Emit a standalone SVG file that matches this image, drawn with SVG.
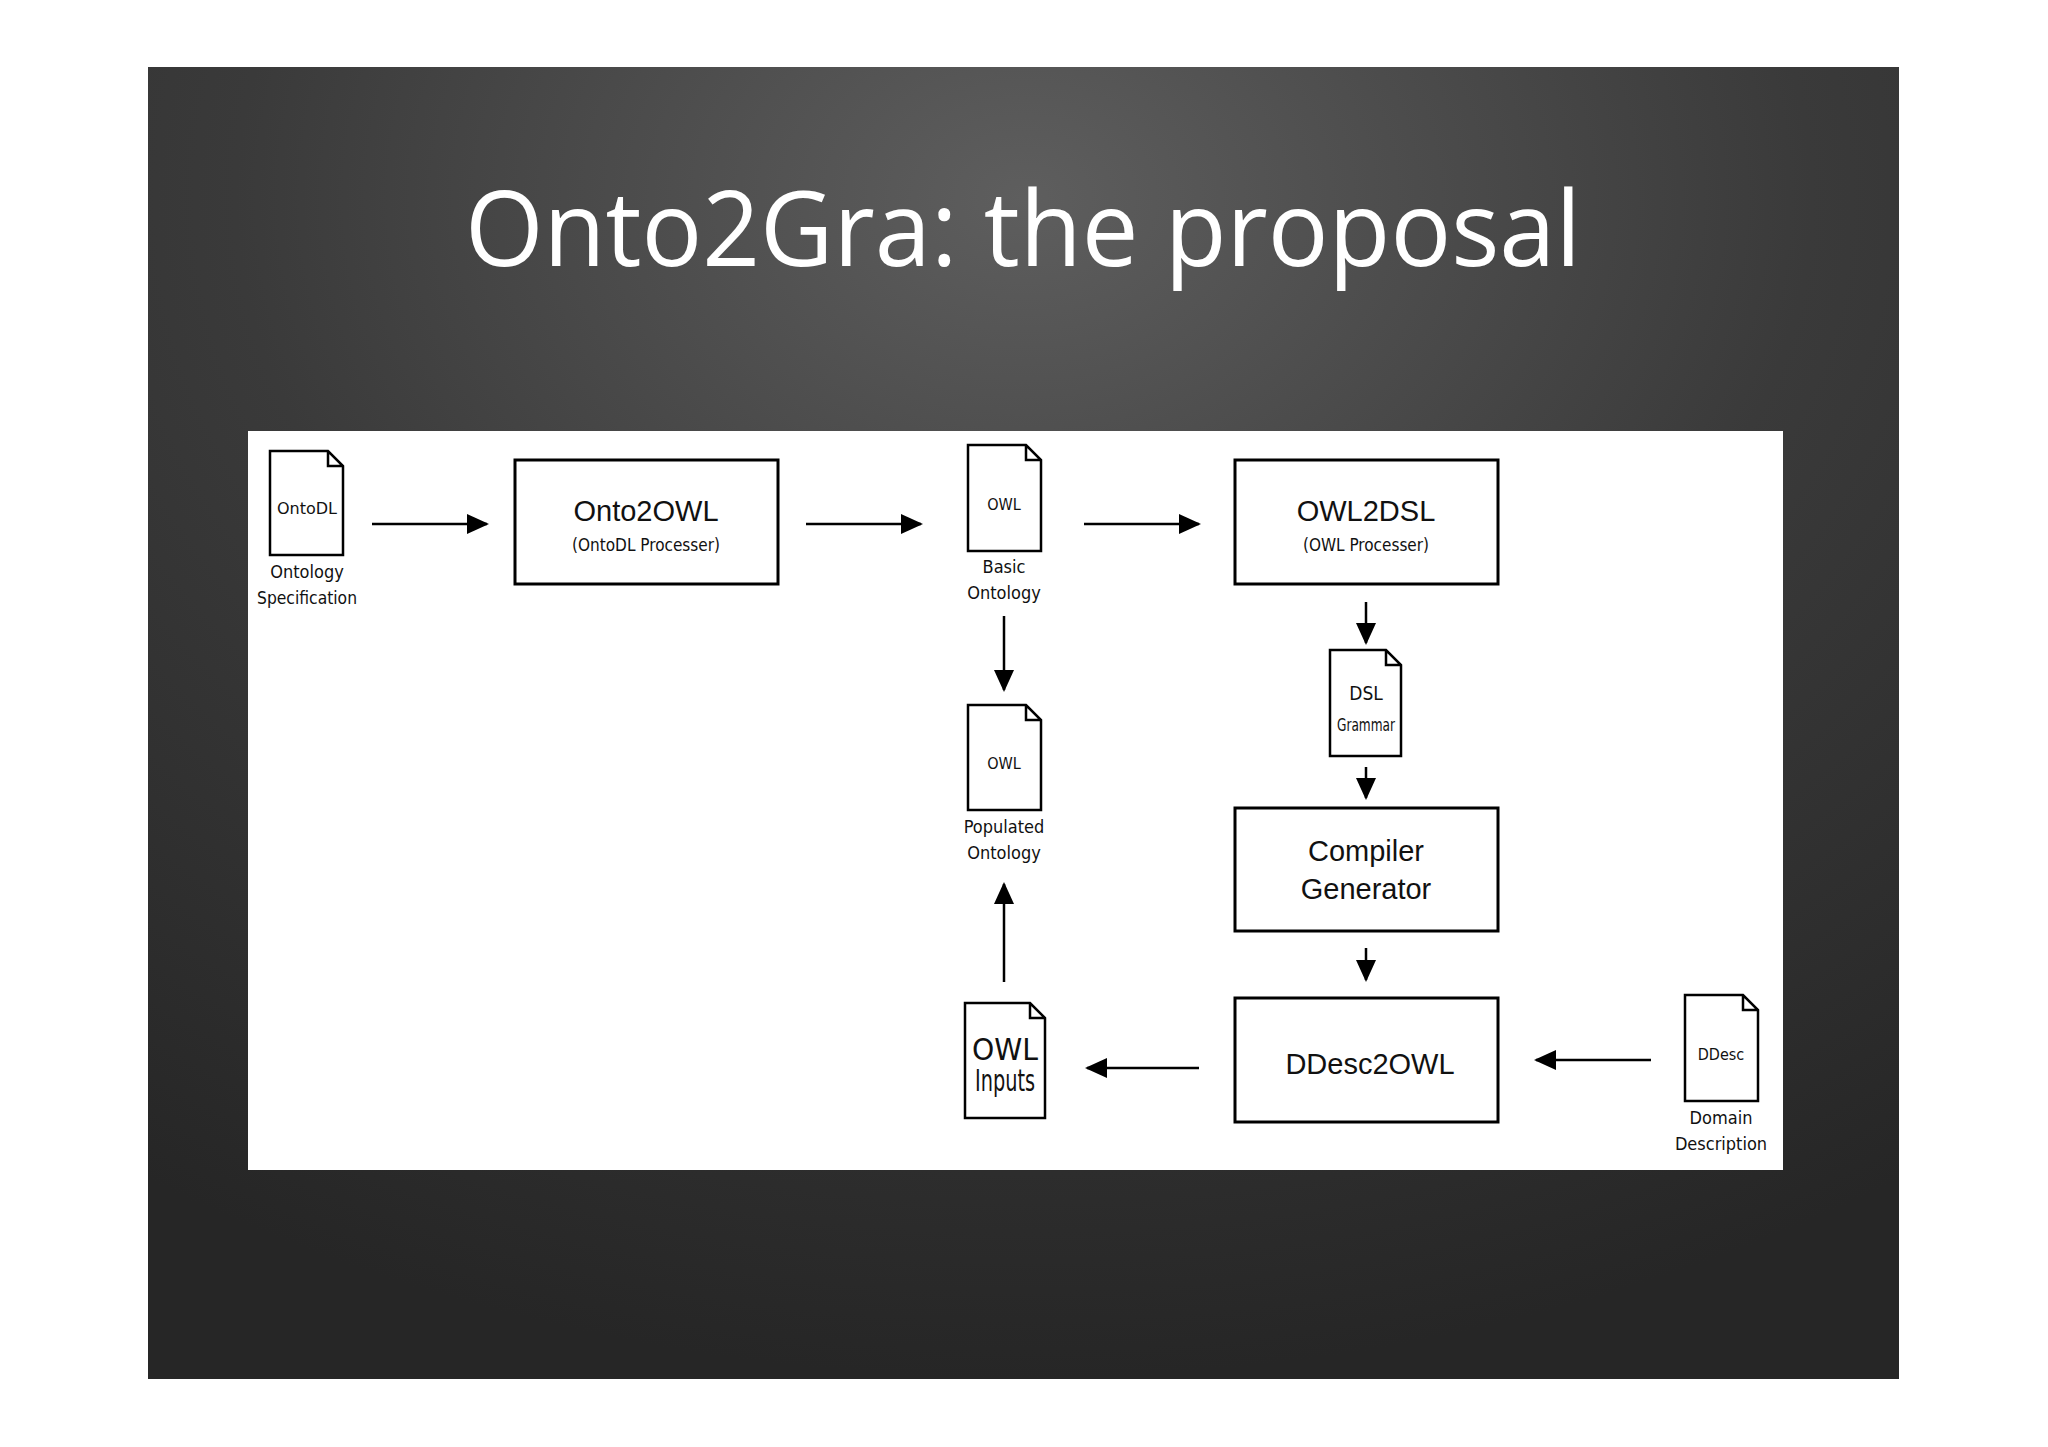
<svg xmlns="http://www.w3.org/2000/svg" width="2048" height="1447" viewBox="0 0 2048 1447">
<defs>
<radialGradient id="bg" cx="0.5" cy="0.1" r="0.9">
<stop offset="0" stop-color="#5e5e5e"/><stop offset="0.5" stop-color="#3a3a3a"/><stop offset="1" stop-color="#262626"/>
</radialGradient>
<marker id="ah" markerUnits="userSpaceOnUse" markerWidth="22" markerHeight="20" refX="20" refY="10" orient="auto"><path d="M0,0 L22,10 L0,20 Z" fill="#000"/></marker>
</defs>
<style>
.doc{fill:#fff;stroke:#000;stroke-width:2.5}
.box{fill:#fff;stroke:#000;stroke-width:3}
.s{font-family:"DejaVu Sans Condensed","Open Sans",sans-serif;font-size:18px;text-anchor:middle;fill:#111}
.b{font-family:"Liberation Sans",Arial,sans-serif;font-size:29px;text-anchor:middle;fill:#111}
.c line{stroke:#000;stroke-width:2.5;marker-end:url(#ah)}
</style>
<rect width="2048" height="1447" fill="#fff"/>
<rect x="148" y="67" width="1751" height="1312" fill="url(#bg)"/>
<text x="1023" y="266" font-family="Open Sans,Liberation Sans,sans-serif" font-size="104" fill="#fff" text-anchor="middle" textLength="1116" lengthAdjust="spacingAndGlyphs">Onto2Gra: the proposal</text>
<rect x="248" y="431" width="1535" height="739" fill="#fff"/>
<g id="ontodl"><path class="doc" d="M270,451 H328 L343,466 V555 H270 Z M328,451 V466 H343"/><text class="s" x="307" y="514" style="font-size:16px" textLength="60" lengthAdjust="spacingAndGlyphs">OntoDL</text><text class="s" x="307" y="578">Ontology</text><text class="s" x="307" y="604" textLength="100" lengthAdjust="spacingAndGlyphs">Specification</text></g>
<g id="onto2owl"><rect class="box" x="515" y="460" width="263" height="124"/><text class="b" x="646" y="521">Onto2OWL</text><text class="s" x="646" y="551" style="font-size:17px" textLength="148" lengthAdjust="spacingAndGlyphs">(OntoDL Processer)</text></g>
<g id="basic"><path class="doc" d="M968,445 H1026 L1041,460 V551 H968 Z M1026,445 V460 H1041"/><text class="s" x="1004" y="510" style="font-size:16px">OWL</text><text class="s" x="1004" y="573">Basic</text><text class="s" x="1004" y="599">Ontology</text></g>
<g id="owl2dsl"><rect class="box" x="1235" y="460" width="263" height="124"/><text class="b" x="1366" y="521">OWL2DSL</text><text class="s" x="1366" y="551" style="font-size:17px" textLength="126" lengthAdjust="spacingAndGlyphs">(OWL Processer)</text></g>
<g id="dsl"><path class="doc" d="M1330,650 H1386 L1401,665 V756 H1330 Z M1386,650 V665 H1401"/><text class="s" x="1366" y="700" style="font-size:19px">DSL</text><text class="s" x="1366" y="731" style="font-size:17px" textLength="58" lengthAdjust="spacingAndGlyphs">Grammar</text></g>
<g id="compiler"><rect class="box" x="1235" y="808" width="263" height="123"/><text class="b" x="1366" y="861">Compiler</text><text class="b" x="1366" y="899">Generator</text></g>
<g id="ddesc2owl"><rect class="box" x="1235" y="998" width="263" height="124"/><text class="b" x="1370" y="1074">DDesc2OWL</text></g>
<g id="ddesc"><path class="doc" d="M1685,995 H1743 L1758,1010 V1101 H1685 Z M1743,995 V1010 H1758"/><text class="s" x="1721" y="1060" style="font-size:16px">DDesc</text><text class="s" x="1721" y="1124">Domain</text><text class="s" x="1721" y="1150">Description</text></g>
<g id="inputs"><path class="doc" d="M965,1003 H1030 L1045,1018 V1118 H965 Z M1030,1003 V1018 H1045"/><text class="s" x="1005" y="1060" style="font-size:30px" textLength="66" lengthAdjust="spacingAndGlyphs">OWL</text><text class="s" x="1005" y="1091" style="font-size:30px" textLength="60" lengthAdjust="spacingAndGlyphs">Inputs</text></g>
<g id="populated"><path class="doc" d="M968,705 H1026 L1041,720 V810 H968 Z M1026,705 V720 H1041"/><text class="s" x="1004" y="769" style="font-size:16px">OWL</text><text class="s" x="1004" y="833">Populated</text><text class="s" x="1004" y="859">Ontology</text></g>
<g class="c">
<line x1="372" y1="524" x2="487" y2="524"/>
<line x1="806" y1="524" x2="921" y2="524"/>
<line x1="1084" y1="524" x2="1199" y2="524"/>
<line x1="1366" y1="602" x2="1366" y2="643"/>
<line x1="1366" y1="767" x2="1366" y2="798"/>
<line x1="1366" y1="948" x2="1366" y2="980"/>
<line x1="1651" y1="1060" x2="1536" y2="1060"/>
<line x1="1199" y1="1068" x2="1087" y2="1068"/>
<line x1="1004" y1="982" x2="1004" y2="884"/>
<line x1="1004" y1="616" x2="1004" y2="690"/>
</g>
</svg>
